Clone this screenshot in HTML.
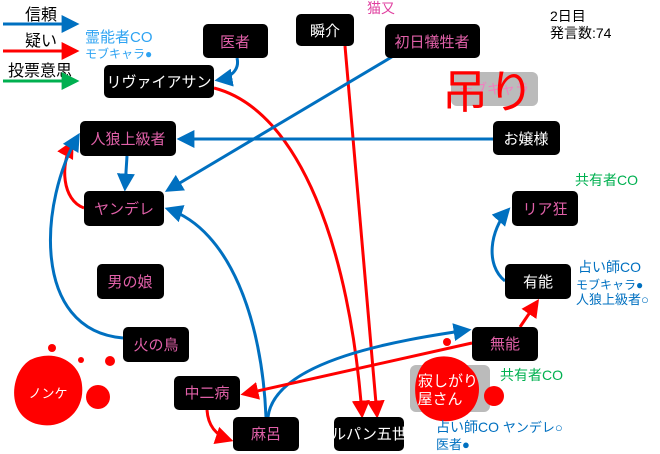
<!DOCTYPE html>
<html><head><meta charset="utf-8"><style>
body{margin:0;background:#fff}
svg{display:block}
text{font-family:"Liberation Sans","Noto Sans CJK JP",sans-serif}
</style></head><body>
<svg width="660" height="454" viewBox="0 0 660 454" xmlns="http://www.w3.org/2000/svg">
<defs>
<marker id="b" viewBox="0 0 10 10" refX="8" refY="5" markerWidth="6" markerHeight="6" orient="auto"><path d="M0,0L10,5L0,10z" fill="#0070c0"/></marker>
<marker id="r" viewBox="0 0 10 10" refX="8" refY="5" markerWidth="6" markerHeight="6" orient="auto"><path d="M0,0L10,5L0,10z" fill="#ff0000"/></marker>
<marker id="g" viewBox="0 0 10 10" refX="8" refY="5" markerWidth="6" markerHeight="6" orient="auto"><path d="M0,0L10,5L0,10z" fill="#00b050"/></marker>
</defs>
<!-- legend -->
<text x="25" y="20" font-size="16">信頼</text>
<line x1="3" y1="24" x2="76" y2="24" stroke="#0070c0" stroke-width="3" marker-end="url(#b)"/>
<text x="25" y="46" font-size="16">疑い</text>
<line x1="3" y1="51" x2="76" y2="51" stroke="#f00" stroke-width="3" marker-end="url(#r)"/>
<text x="8" y="76" font-size="16">投票意思</text>
<line x1="3" y1="81" x2="76" y2="81" stroke="#00b050" stroke-width="3" marker-end="url(#g)"/>
<text x="85" y="42" font-size="15" fill="#2ea3f2">霊能者CO</text>
<text x="85" y="58" font-size="12" fill="#2ea3f2">モブキャラ●</text>
<text x="550" y="21" font-size="14">2日目</text>
<text x="550" y="38" font-size="14">発言数:74</text>
<text x="367" y="13" font-size="14" fill="#e040a0">猫又</text>
<!-- hanged -->
<rect x="451" y="72" width="87" height="34" rx="6" fill="#bbb"/>
<text x="494" y="94" font-size="14" fill="#f080c0" text-anchor="middle">モブキャラ</text>
<text x="442" y="108" font-size="46" fill="#f00">吊り</text>
<!-- edges -->
<g fill="none" stroke-width="3">
<path d="M237,58 C240,70 230,78 218,80" stroke="#0070c0" marker-end="url(#b)"/>
<path d="M214,88 C300,110 350,250 362,415" stroke="#f00" marker-end="url(#r)"/>
<path d="M345,46 L377,415" stroke="#f00" marker-end="url(#r)"/>
<path d="M395,55 L168,190" stroke="#0070c0" marker-end="url(#b)"/>
<path d="M493,139 L180,139" stroke="#0070c0" marker-end="url(#b)"/>
<path d="M127,156 L125,188" stroke="#0070c0" marker-end="url(#b)"/>
<path d="M84,208 C62,200 60,165 72,143" stroke="#f00" marker-end="url(#r)"/>
<path d="M123,338 C30,330 40,200 78,136" stroke="#0070c0" marker-end="url(#b)"/>
<path d="M266,417 C262,320 230,230 168,209" stroke="#0070c0" marker-end="url(#b)"/>
<path d="M268,417 C275,360 400,340 468,330" stroke="#0070c0" marker-end="url(#b)"/>
<path d="M472,343 L244,394" stroke="#f00" marker-end="url(#r)"/>
<path d="M520,327 L537,302" stroke="#f00" marker-end="url(#r)"/>
<path d="M505,281 C485,265 490,230 508,210" stroke="#0070c0" marker-end="url(#b)"/>
<path d="M207,410 C208,425 215,435 230,440" stroke="#f00" marker-end="url(#r)"/>
</g>
<!-- nodes -->
<g font-size="15" text-anchor="middle">
<rect x="203" y="24" width="65" height="34" rx="5" fill="#000"/><text x="235" y="47" fill="#e060a8">医者</text>
<rect x="104" y="65" width="110" height="33" rx="5" fill="#000"/><text x="159" y="87" fill="#fff">リヴァイアサン</text>
<rect x="296" y="14" width="58" height="32" rx="5" fill="#000"/><text x="325" y="36" fill="#fff">瞬介</text>
<rect x="385" y="24" width="95" height="34" rx="5" fill="#000"/><text x="432" y="47" fill="#e060a8">初日犠牲者</text>
<rect x="493" y="121" width="67" height="34" rx="5" fill="#000"/><text x="526" y="144" fill="#fff">お嬢様</text>
<rect x="80" y="121" width="96" height="35" rx="5" fill="#000"/><text x="128" y="144" fill="#e060a8">人狼上級者</text>
<rect x="84" y="191" width="80" height="35" rx="5" fill="#000"/><text x="124" y="214" fill="#e060a8">ヤンデレ</text>
<rect x="97" y="264" width="67" height="35" rx="5" fill="#000"/><text x="130" y="287" fill="#e060a8">男の娘</text>
<rect x="123" y="327" width="66" height="35" rx="5" fill="#000"/><text x="156" y="350" fill="#e060a8">火の鳥</text>
<rect x="174" y="376" width="66" height="34" rx="5" fill="#000"/><text x="207" y="398" fill="#e060a8">中二病</text>
<rect x="233" y="417" width="66" height="34" rx="5" fill="#000"/><text x="266" y="439" fill="#e060a8">麻呂</text>
<rect x="334" y="417" width="70" height="34" rx="5" fill="#000"/><text x="369" y="439" fill="#fff">ルパン五世</text>
<rect x="472" y="327" width="66" height="34" rx="5" fill="#000"/><text x="505" y="349" fill="#e060a8">無能</text>
<rect x="505" y="264" width="66" height="35" rx="5" fill="#000"/><text x="538" y="287" fill="#fff">有能</text>
<rect x="512" y="191" width="66" height="35" rx="5" fill="#000"/><text x="545" y="214" fill="#e060a8">リア狂</text>
</g>
<!-- dead -->
<rect x="410" y="365" width="80" height="47" rx="6" fill="#bbb"/>
<path d="M425,362 C440,352 460,356 470,368 C482,378 482,400 470,412 C458,424 435,424 424,414 C412,404 412,375 425,362z" fill="#f00"/>
<circle cx="494" cy="396" r="10" fill="#f00"/>
<circle cx="447" cy="342" r="4" fill="#f00"/>
<text x="448" y="386" font-size="15" fill="#fff" text-anchor="middle">寂しがり</text>
<text x="440" y="404" font-size="15" fill="#fff" text-anchor="middle">屋さん</text>
<path d="M30,360 C55,348 80,362 82,385 C85,410 65,428 42,425 C18,422 10,400 16,380 C19,370 24,364 30,360z" fill="#f00"/>
<circle cx="98" cy="397" r="12" fill="#f00"/>
<circle cx="110" cy="361" r="5" fill="#f00"/>
<circle cx="52" cy="348" r="4" fill="#f00"/>
<circle cx="81" cy="360" r="3" fill="#f00"/>
<text x="48" y="398" font-size="13" fill="#fff" text-anchor="middle">ノンケ</text>
<!-- annotations -->
<text x="575" y="185" font-size="14" fill="#00b050">共有者CO</text>
<text x="500" y="380" font-size="14" fill="#00b050">共有者CO</text>
<text x="578" y="272" font-size="14" fill="#0070c0">占い師CO</text>
<text x="576" y="289" font-size="12" fill="#0070c0">モブキャラ●</text>
<text x="576" y="304" font-size="13" fill="#0070c0">人狼上級者○</text>
<text x="436" y="432" font-size="14" fill="#0070c0">占い師CO <tspan font-size="13">ヤンデレ○</tspan></text>
<text x="436" y="449" font-size="13" fill="#0070c0">医者●</text>
</svg>
</body></html>
